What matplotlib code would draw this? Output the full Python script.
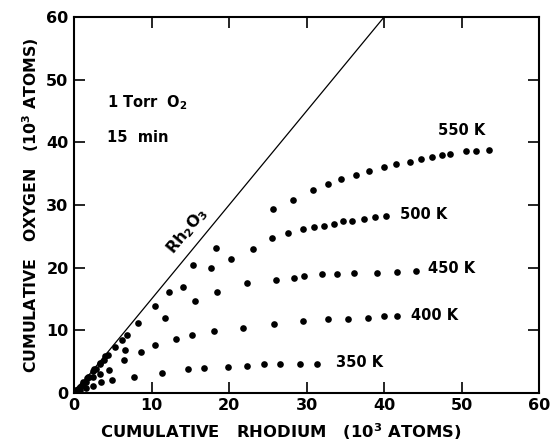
import matplotlib.pyplot as plt

# data (10^3 atoms)
rh_550 = [0.3, 0.7, 1.2, 1.8, 2.6, 3.3, 4.0, 5.3, 6.2, 8.3, 10.4, 12.3, 15.3, 18.3,
          25.7, 28.2, 30.8, 32.7, 34.4, 36.4, 38.1, 40.0, 41.5, 43.3, 44.8, 46.2,
          47.5, 48.5, 50.5, 51.9, 53.5]
ox_550 = [0.4, 1.0, 1.7, 2.6, 3.8, 4.8, 5.9, 7.4, 8.5, 11.1, 13.9, 16.1, 20.4, 23.2,
          29.3, 30.8, 32.4, 33.4, 34.2, 34.7, 35.4, 36.1, 36.5, 36.8, 37.3, 37.6,
          38.0, 38.2, 38.6, 38.6, 38.7]

rh_500 = [0.5, 1.1, 1.7, 2.5, 3.3, 4.4, 6.8, 14.1, 17.7, 20.3, 23.1, 25.5, 27.6,
          29.5, 31.0, 32.2, 33.5, 34.7, 35.9, 37.4, 38.8, 40.3]
ox_500 = [0.7, 1.5, 2.4, 3.5, 4.6, 6.1, 9.2, 16.9, 20.0, 21.4, 23.0, 24.7, 25.6,
          26.1, 26.5, 26.7, 27.0, 27.4, 27.5, 27.8, 28.0, 28.2]

rh_450 = [0.4, 1.0, 1.9, 2.8, 3.8, 6.6, 11.7, 15.6, 18.5, 22.3, 26.1, 28.4, 29.7,
          32.0, 33.9, 36.1, 39.1, 41.6, 44.1]
ox_450 = [0.5, 1.3, 2.6, 3.8, 5.3, 6.9, 11.9, 14.7, 16.1, 17.5, 18.1, 18.4, 18.7,
          18.9, 18.9, 19.1, 19.1, 19.3, 19.5]

rh_400 = [0.3, 0.8, 1.5, 2.4, 3.4, 4.5, 6.4, 8.6, 10.5, 13.2, 15.2, 18.1, 21.8,
          25.8, 29.5, 32.8, 35.4, 37.9, 40.0, 41.6]
ox_400 = [0.3, 0.9, 1.7, 2.6, 3.1, 3.6, 5.2, 6.5, 7.7, 8.6, 9.3, 9.9, 10.4,
          11.0, 11.5, 11.8, 11.8, 12.0, 12.2, 12.2]

rh_350 = [0.3, 0.8, 1.5, 2.4, 3.5, 4.9, 7.7, 11.3, 14.7, 16.8, 19.8, 22.3, 24.5,
          26.6, 29.2, 31.3]
ox_350 = [0.2, 0.5, 0.8, 1.1, 1.7, 2.1, 2.6, 3.2, 3.8, 3.9, 4.1, 4.3, 4.6,
          4.6, 4.6, 4.6]

series = [(rh_550, ox_550, '550 K', 47.0, 41.8),
          (rh_500, ox_500, '500 K', 42.0, 28.5),
          (rh_450, ox_450, '450 K', 45.6, 19.9),
          (rh_400, ox_400, '400 K', 43.5, 12.3),
          (rh_350, ox_350, '350 K', 33.8, 4.9)]

# stoichiometric line for Rh2O3 (O/Rh = 1.5)
line_x = [0, 40]
line_y = [0, 60]

plt.rcParams['font.family'] = ['DejaVu Sans']

fig = plt.figure(figsize=(5.53, 4.46), dpi=100)
ax = fig.add_axes([0.134, 0.119, 0.841, 0.843])

ax.plot(line_x, line_y, color='black', lw=0.9)
for x, y, name, lx, ly in series:
    ax.plot(x, y, 'o', color='black', ms=4.8, mew=0)
    ax.text(lx, ly, name, fontsize=10.5, fontweight='bold', va='center', ha='left')

ax.text(14.6, 25.8, 'Rh$_\\mathbf{2}$O$_\\mathbf{3}$', rotation=50.5, fontsize=11.5,
        fontweight='bold', ha='center', va='center', rotation_mode='anchor')
ax.text(4.3, 46.3, '1 Torr  O$_\\mathbf{2}$', fontsize=10.5, fontweight='bold', va='center')
ax.text(4.3, 40.7, '15  min', fontsize=10.5, fontweight='bold', va='center')

ax.set_xlim(0, 60)
ax.set_ylim(0, 60)
ax.set_xticks(range(0, 61, 10))
ax.set_yticks(range(0, 61, 10))
ax.tick_params(direction='in', length=8, width=1.2, top=True, right=True,
               labelsize=11.5, pad=4)
for lab in ax.get_xticklabels() + ax.get_yticklabels():
    lab.set_fontweight('bold')
for s in ax.spines.values():
    s.set_linewidth(1.5)

ax.set_xlabel('CUMULATIVE   RHODIUM   (10$^\\mathbf{3}$ ATOMS)', fontsize=11.8,
              fontweight='bold')
ax.xaxis.set_label_coords(0.445, -0.075)
ax.set_ylabel('CUMULATIVE   OXYGEN   (10$^\\mathbf{3}$ ATOMS)', fontsize=11.3,
              fontweight='bold', labelpad=4)

fig.savefig('out.png', dpi=100)
